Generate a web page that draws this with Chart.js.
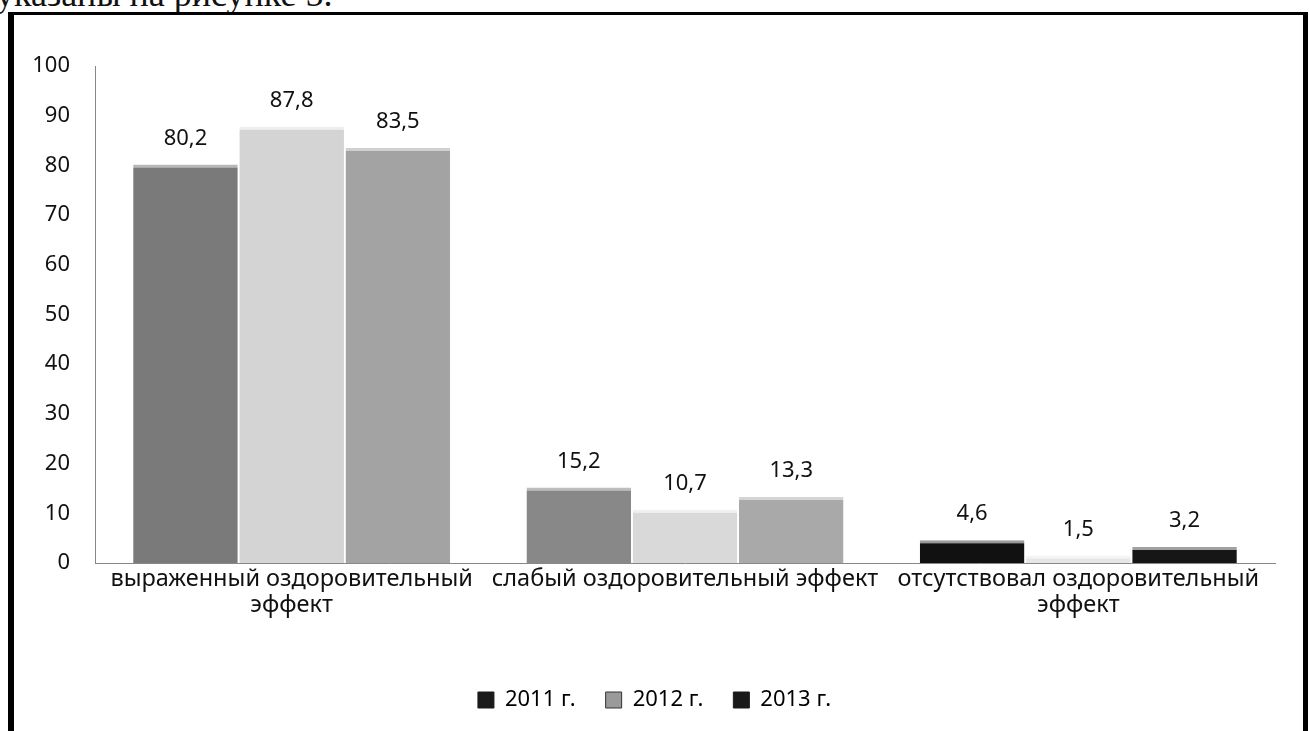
<!DOCTYPE html>
<html lang="ru">
<head>
    <meta charset="UTF-8">
    <title>Оздоровительный эффект</title>
    <script src="https://cdn.jsdelivr.net/npm/chart.js"></script>
    <style>
        html, body { margin: 0; padding: 0; background: #fff; overflow: hidden; }
        #wrap { position: relative; width: 1309px; height: 731px; }
        #caption {
            position: absolute; left: -4px; top: -27px;
            font: 36px "Liberation Serif", "DejaVu Serif", serif; color: #111;
            white-space: nowrap;
        }
        #frame {
            position: absolute; left: 8px; top: 12px; width: 1289px; height: 740px;
            border-left: 6px solid #000; border-top: 3px solid #000; border-right: 5px solid #000;
            background: #fff;
        }
        #chart { position: absolute; left: 0; top: 0; }
    </style>
</head>
<body>
<div id="wrap">
    <div id="caption">указаны на рисунке 5.</div>
    <div id="frame"></div>
    <canvas id="chart" width="1309" height="731"></canvas>
</div>

<script>
    // данные диаграммы
    const categories = [
        ['выраженный оздоровительный', 'эффект'],
        'слабый оздоровительный эффект',
        ['отсутствовал оздоровительный', 'эффект']
    ];
    const years = ['2011 г.', '2012 г.', '2013 г.'];
    const values2011 = [80.2, 15.2, 4.6];
    const values2012 = [87.8, 10.7, 1.5];
    const values2013 = [83.5, 13.3, 3.2];
    const yTicks = [0, 10, 20, 30, 40, 50, 60, 70, 80, 90, 100];

    const FONT = '"Noto Sans", "Open Sans", sans-serif';

    // подписи значений над столбцами
    const valueLabels = {
        id: 'valueLabels',
        afterDatasetsDraw(chart) {
            const ctx = chart.ctx;
            ctx.save();
            ctx.font = '22px ' + FONT;
            ctx.fillStyle = '#111';
            ctx.textAlign = 'center';
            ctx.textBaseline = 'middle';
            chart.data.datasets.forEach((ds, i) => {
                chart.getDatasetMeta(i).data.forEach((bar, j) => {
                    ctx.fillText(String(ds.data[j]).replace('.', ','), bar.x, bar.y - 26);
                });
            });
            ctx.restore();
        }
    };

    const legendFill = ['#1a1a1a', '#9a9a9a', '#1a1a1a'];
    const legendStroke = ['#1a1a1a', '#333', '#1a1a1a'];

    new Chart(document.getElementById('chart'), {
        type: 'bar',
        data: {
            labels: categories,
            datasets: [
                { label: years[0], data: values2011,
                  backgroundColor: ['#7a7a7a', '#888888', '#111111'],
                  borderColor: ['#b8b8b8', '#bdbdbd', '#9a9a9a'] },
                { label: years[1], data: values2012,
                  backgroundColor: ['#d4d4d4', '#d9d9d9', '#e6e6e6'],
                  borderColor: ['#eeeeee', '#f0f0f0', '#f4f4f4'] },
                { label: years[2], data: values2013,
                  backgroundColor: ['#a3a3a3', '#a9a9a9', '#161616'],
                  borderColor: ['#d0d0d0', '#d4d4d4', '#a0a0a0'] }
            ]
        },
        options: {
            responsive: false,
            animation: false,
            layout: { padding: { left: 0, right: 0, top: 66, bottom: 10 } },
            datasets: {
                bar: {
                    categoryPercentage: 0.81,
                    barPercentage: 0.985,
                    borderWidth: { top: 3, left: 0, right: 0, bottom: 0 },
                    borderSkipped: false
                }
            },
            scales: {
                x: {
                    grid: { display: false, drawTicks: false },
                    border: { display: true, color: '#888', width: 1, dash: [3, 2] },
                    ticks: { padding: 3, color: '#111', font: { family: FONT, size: 23.5, lineHeight: 1.12 }, maxRotation: 0, autoSkip: false },
                    afterFit(scale) { scale.height = 96; }
                },
                y: {
                    min: 0, max: 100,
                    afterBuildTicks(scale) { scale.ticks = yTicks.map(v => ({ value: v })); },
                    grid: { display: false, drawTicks: false },
                    border: { display: true, color: '#888', width: 1, dash: [3, 2] },
                    ticks: { padding: 25, color: '#111', font: { family: FONT, size: 22 } },
                    afterFit(scale) { scale.width = 95; }
                },
                // пустая правая ось — только отступ справа
                yRight: {
                    position: 'right',
                    grid: { display: false, drawTicks: false },
                    border: { display: false },
                    ticks: { display: false },
                    afterFit(scale) { scale.width = 34; }
                }
            },
            plugins: {
                tooltip: { enabled: false },
                legend: {
                    position: 'bottom',
                    labels: {
                        color: '#111',
                        font: { family: FONT, size: 22 },
                        boxWidth: 16, boxHeight: 16, padding: 30,
                        generateLabels(chart) {
                            return chart.data.datasets.map((ds, i) => ({
                                text: ds.label,
                                fillStyle: legendFill[i],
                                strokeStyle: legendStroke[i],
                                lineWidth: 1,
                                datasetIndex: i
                            }));
                        }
                    }
                }
            }
        },
        plugins: [valueLabels]
    });
</script>
</body>
</html>
